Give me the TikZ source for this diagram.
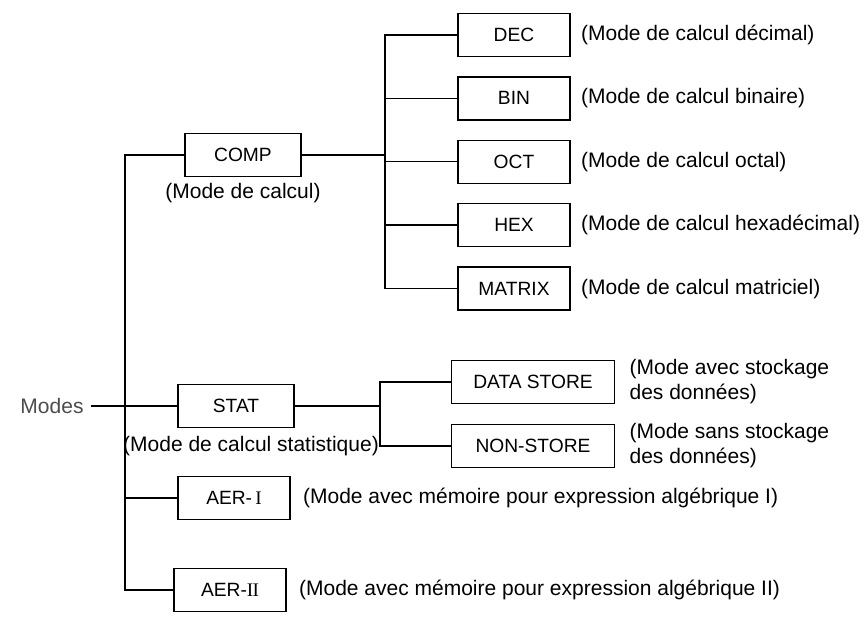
\documentclass[tikz,border=0pt]{standalone}
\usepackage{fontspec}
\setsansfont{Liberation Sans}
\newfontfamily\romfont{Liberation Serif}
\usepackage{tikz}
\usetikzlibrary{positioning}

\begin{document}
\begin{tikzpicture}[
  x=0.5pt, y=-0.5pt,
  font=\sffamily\fontsize{10.5}{12.5}\selectfont,
  box/.style={draw, minimum width=56pt, minimum height=21.5pt, inner sep=1pt,
    font=\sffamily\fontsize{9.6}{11}\selectfont, line width=0.7pt},
  link/.style={line width=0.7pt},
  note/.style={align=left, inner sep=1pt},
]
  \useasboundingbox[fill=white] (0,0) rectangle (864,619);

  % first level
  \node[text=black!70] (modes) at (52,406) {Modes};
  \coordinate (trunk) at (125,0);
  \node[box, minimum width=58pt] (comp) at (243,155) {COMP};
  \node[note, below=2pt of comp] (compnote) {(Mode de calcul)};
  \node[box, minimum width=58pt] (stat) at (236,406) {STAT};
  \node[note] (statnote) at (251,446) {(Mode de calcul statistique)};
  \node[box] (aer1) at (234,498) {AER-\,{\romfont I}};
  \node[box] (aer2) at (230,590) {AER-{\romfont I\kern-0.4pt I}};
  \node[note, right=5pt of aer1] (aer1note) {(Mode avec mémoire pour expression algébrique I)};
  \node[note, right=5pt of aer2] (aer2note) {(Mode avec mémoire pour expression algébrique II)};

  \draw[link] (comp.west) -- (comp.west -| trunk) |- (aer2.west);
  \draw[link] (modes) -- (stat.west);
  \draw[link] (trunk |- aer1.west) -- (aer1.west);

  % COMP modes
  \coordinate (cbus) at (385,0);
  \node[box] (dec) at (514,35) {DEC};
  \node[box, below=9.5pt of dec] (bin) {BIN};
  \node[box, below=9.5pt of bin] (oct) {OCT};
  \node[box, below=9.5pt of oct] (hex) {HEX};
  \node[box, below=9.5pt of hex] (matrix) {MATRIX};
  \node[note, right=4pt of dec] {(Mode de calcul décimal)};
  \node[note, right=4pt of bin] {(Mode de calcul binaire)};
  \node[note, right=4pt of oct] {(Mode de calcul octal)};
  \node[note, right=4pt of hex] {(Mode de calcul hexadécimal)};
  \node[note, right=4pt of matrix] {(Mode de calcul matriciel)};

  \draw[link] (comp.east) -- (comp.east -| cbus);
  \draw[link] (dec.west) -- (dec.west -| cbus) |- (matrix.west);
  \foreach \n in {bin, oct, hex}
    \draw[link] (cbus |- \n.west) -- (\n.west);

  % STAT modes
  \coordinate (sbus) at (380,0);
  \node[box, minimum width=81.5pt] (dstore) at (533,382) {DATA STORE};
  \node[box, minimum width=81.5pt] (nstore) at (533,446) {NON-STORE};
  \node[note, right=6pt of dstore] {(Mode avec stockage\\des données)};
  \node[note, right=6pt of nstore] {(Mode sans stockage\\des données)};

  \draw[link] (stat.east) -- (stat.east -| sbus);
  \draw[link] (dstore.west) -- (dstore.west -| sbus) |- (nstore.west);
\end{tikzpicture}
\end{document}
